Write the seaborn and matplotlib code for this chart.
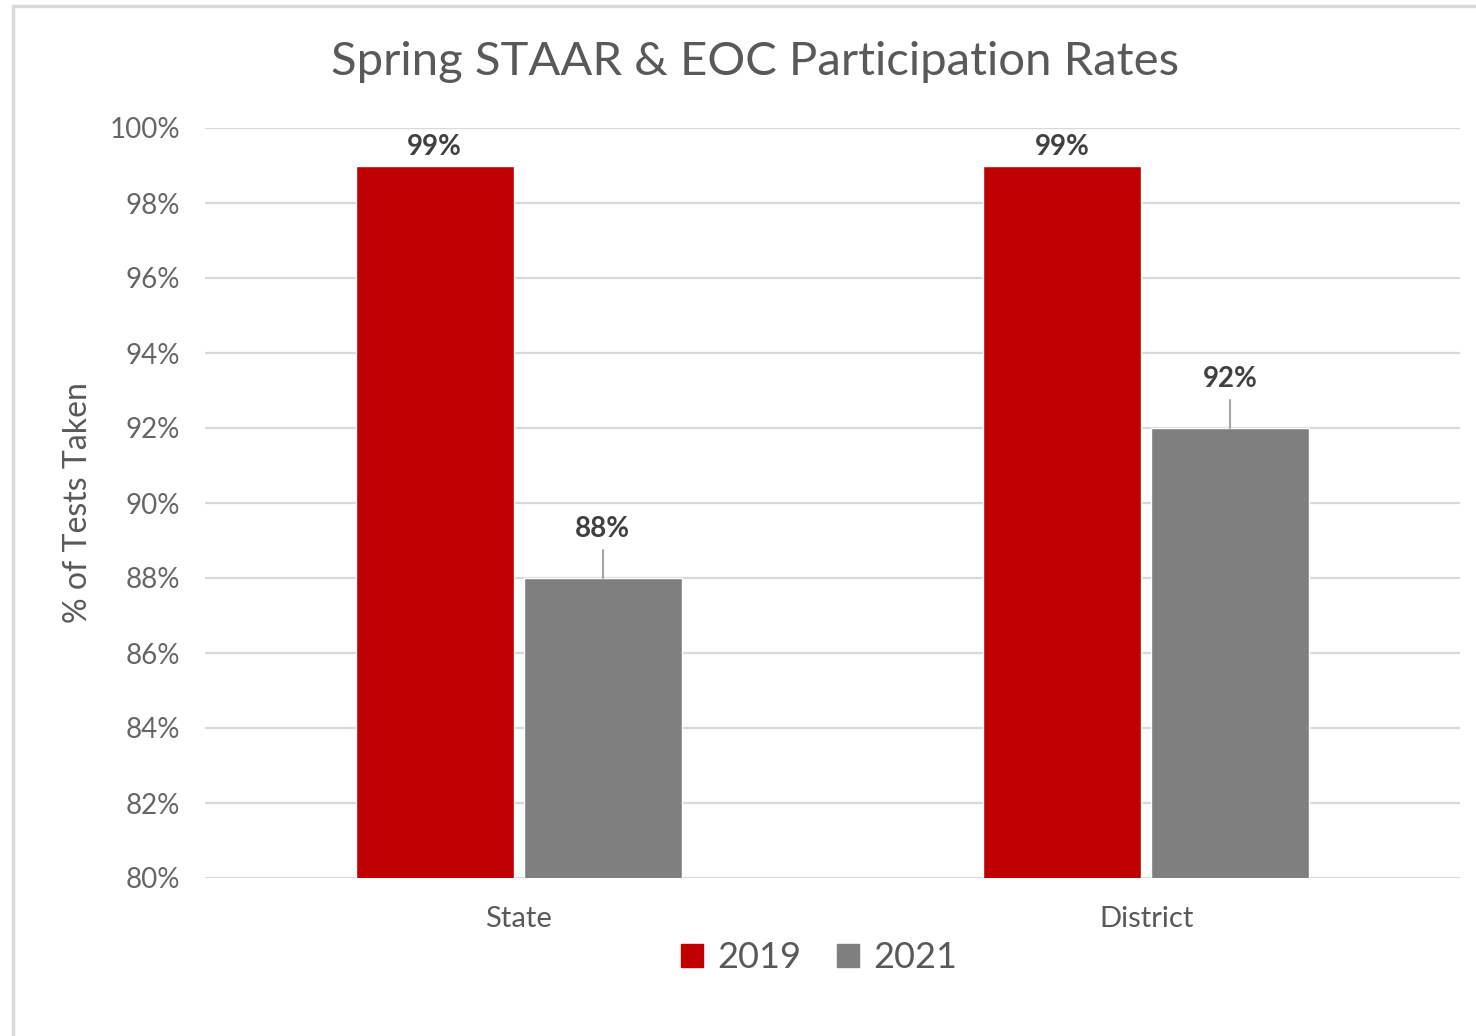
import matplotlib
matplotlib.use("Agg")
import matplotlib.pyplot as plt
import seaborn as sns
import pandas as pd
from matplotlib.lines import Line2D
from matplotlib.patches import Patch

categories = ["State", "District"]
years = ["2019", "2021"]
values_2019 = [99, 99]
values_2021 = [88, 92]
yticks = [80, 82, 84, 86, 88, 90, 92, 94, 96, 98, 100]
colors = {"2019": "#C00000", "2021": "#7F7F7F"}

df = pd.DataFrame({
    "Category": categories * 2,
    "Year": ["2019"] * len(categories) + ["2021"] * len(categories),
    "Value": values_2019 + values_2021,
})

sns.set_theme(style="white")
plt.rcParams["font.family"] = ["Lato", "DejaVu Sans"]
txt = "#595959"

fig = plt.figure(figsize=(14.76, 10.36), dpi=100)
ax = fig.add_axes([205 / 1476, 1 - 878 / 1036, 1255 / 1476, 750 / 1036])

sns.barplot(data=df, x="Category", y="Value", hue="Year", palette=colors,
            order=categories, hue_order=years, width=0.536, gap=0.06,
            ax=ax, legend=False, saturation=1, zorder=3)

ax.set_ylim(80, 100)
ax.set_xlim(-0.5, 1.5)
ax.set_yticks(yticks)
ax.set_yticklabels([f"{t}%" for t in yticks], color="#666666", fontsize=20)
ax.tick_params(axis="y", length=0, pad=18)
ax.tick_params(axis="x", length=0, pad=20, labelsize=21, labelcolor=txt)
for t in yticks:
    ax.axhline(t, color="#D9D9D9", lw=1.6, zorder=1)
for s in ax.spines.values():
    s.set_visible(False)
ax.set_xlabel("")
ax.set_ylabel("% of Tests Taken", fontsize=23, color=txt, labelpad=12)

# data labels
for container, yr in zip(ax.containers, years):
    for bar in container:
        h = bar.get_height()
        cx = bar.get_x() + bar.get_width() / 2
        if yr == "2019":
            ax.text(cx, h + 0.15, f"{h:.0f}%", ha="center", va="bottom",
                    fontsize=20, fontweight="bold", color="#404040", zorder=4)
        else:
            ax.plot([cx, cx], [h, h + 0.75], color="#A6A6A6", lw=1.5, zorder=4)
            ax.text(cx, h + 0.95, f"{h:.0f}%", ha="center", va="bottom",
                    fontsize=20, fontweight="bold", color="#404040", zorder=4)

fig.suptitle("Spring STAAR & EOC Participation Rates", x=755 / 1476, y=1 - 62 / 1036,
             va="center", fontsize=34, color=txt)

handles = [Patch(facecolor=colors[y], edgecolor=colors[y]) for y in years]
fig.legend(handles, years, loc="center", bbox_to_anchor=(819 / 1476, 1 - 958 / 1036),
           ncol=2, frameon=False, fontsize=26, handlelength=0.6, handleheight=0.6,
           handletextpad=0.4, columnspacing=1.0, labelcolor=txt)

# chart border (left and top visible)
fig.add_artist(Line2D([13 / 1476, 13 / 1476], [0, 1 - 6 / 1036], color="#D9D9D9",
                      lw=2.5, transform=fig.transFigure))
fig.add_artist(Line2D([13 / 1476, 1], [1 - 6 / 1036, 1 - 6 / 1036], color="#D9D9D9",
                      lw=2.5, transform=fig.transFigure))

fig.savefig("out.png", dpi=100)
